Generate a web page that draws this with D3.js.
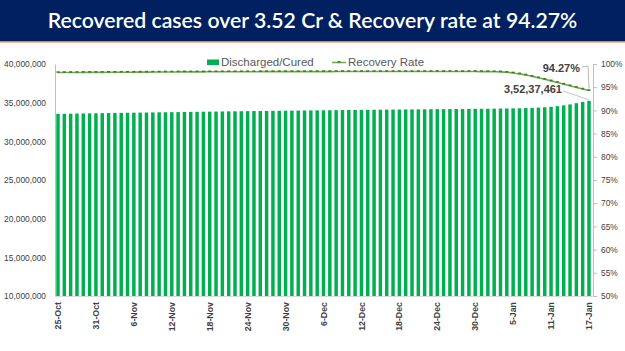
<!DOCTYPE html>
<html>
<head>
<meta charset="utf-8">
<script src="https://cdn.jsdelivr.net/npm/d3@7"></script>
<style>
  body { margin: 0; background: #fff; }
  svg { display: block; font-family: "Liberation Sans", Arial, sans-serif; }
</style>
</head>
<body>
<div id="chart"></div>
<script>
// Dates (one bar per day)
const dates = [
  "25-Oct","26-Oct","27-Oct","28-Oct","29-Oct","30-Oct","31-Oct",
  "1-Nov","2-Nov","3-Nov","4-Nov","5-Nov","6-Nov","7-Nov","8-Nov","9-Nov","10-Nov",
  "11-Nov","12-Nov","13-Nov","14-Nov","15-Nov","16-Nov","17-Nov","18-Nov","19-Nov","20-Nov",
  "21-Nov","22-Nov","23-Nov","24-Nov","25-Nov","26-Nov","27-Nov","28-Nov","29-Nov","30-Nov",
  "1-Dec","2-Dec","3-Dec","4-Dec","5-Dec","6-Dec","7-Dec","8-Dec","9-Dec","10-Dec",
  "11-Dec","12-Dec","13-Dec","14-Dec","15-Dec","16-Dec","17-Dec","18-Dec","19-Dec","20-Dec",
  "21-Dec","22-Dec","23-Dec","24-Dec","25-Dec","26-Dec","27-Dec","28-Dec","29-Dec","30-Dec","31-Dec",
  "1-Jan","2-Jan","3-Jan","4-Jan","5-Jan","6-Jan","7-Jan","8-Jan","9-Jan","10-Jan",
  "11-Jan","12-Jan","13-Jan","14-Jan","15-Jan","16-Jan","17-Jan"
];

// Discharged/Cured (cumulative)
const cured = [
  33548605,33561349,33576291,33590412,33604283,33617764,33631212,
  33643741,33656003,33668560,33681080,33692883,33704555,33715921,33727176,33739076,33751187,
  33763104,33774880,33786010,33797186,33808059,33819320,33830651,33841847,33852712,33863284,
  33873890,33884075,33894100,33903742,33913294,33922962,33932528,33941639,33950580,33960126,
  33969438,33978770,33988239,33997696,34006797,34015997,34024602,34032924,34041386,34049864,
  34058289,34066741,34074879,34083160,34091071,34098780,34106532,34114331,34121762,34129243,
  34136589,34143939,34151097,34157856,34164813,34171471,34178940,34185716,34192517,34200256,34208681,
  34218071,34228386,34241006,34251918,34264293,34278000,34297000,34325000,34360000,34405000,
  34465000,34545000,34650000,34775000,34930000,35099130,35237461
];

// Recovery rate (%)
const rate = [
  98.15,98.16,98.17,98.18,98.19,98.19,98.20,
  98.20,98.21,98.22,98.23,98.23,98.24,98.25,98.25,98.26,98.27,
  98.28,98.28,98.29,98.30,98.30,98.31,98.31,98.32,98.32,98.33,
  98.33,98.33,98.34,98.34,98.34,98.35,98.35,98.35,98.35,98.35,
  98.35,98.36,98.36,98.36,98.36,98.36,98.36,98.37,98.37,98.37,
  98.37,98.37,98.37,98.38,98.38,98.38,98.38,98.38,98.38,98.38,
  98.38,98.38,98.38,98.38,98.38,98.38,98.38,98.37,98.37,98.37,98.36,
  98.35,98.34,98.31,98.22,98.07,97.87,97.62,97.33,97.02,96.70,
  96.36,96.01,95.65,95.30,94.95,94.60,94.27
];

const xTicks = ["25-Oct","31-Oct","6-Nov","12-Nov","18-Nov","24-Nov","30-Nov","6-Dec","12-Dec","18-Dec","24-Dec","30-Dec","5-Jan","11-Jan","17-Jan"];
const leftTicks = [10000000,15000000,20000000,25000000,30000000,35000000,40000000];
const rightTicks = [50,55,60,65,70,75,80,85,90,95,100];

const titleText = "Recovered cases over 3.52 Cr & Recovery rate at 94.27%";

const W = 625, H = 351;
const plot = { left: 55, right: 592, top: 64, bottom: 296 };

const svg = d3.select("#chart").append("svg")
    .attr("width", W).attr("height", H);

// Title banner
svg.append("rect").attr("x", 0).attr("y", 0).attr("width", W).attr("height", 41).attr("fill", "#002060");
svg.append("rect").attr("x", 0).attr("y", 41).attr("width", W).attr("height", 1.5).attr("fill", "#ED7D31");
const title = svg.append("text")
    .attr("x", W / 2).attr("y", 28)
    .attr("text-anchor", "middle")
    .attr("fill", "#fff")
    .style("font-family", "Lato, 'Open Sans', sans-serif")
    .style("font-weight", "600")
    .style("font-size", "20px")
    .text(titleText);
// fit title width to the reference
const tw = title.node().getComputedTextLength();
title.style("font-size", (20 * 530 / tw) + "px");

// Scales
const x = d3.scaleBand().domain(dates).range([plot.left, plot.right]).paddingInner(0.45).paddingOuter(0.2);
const yL = d3.scaleLinear().domain([10000000, 40000000]).range([plot.bottom, plot.top]);
const yR = d3.scaleLinear().domain([50, 100]).range([plot.bottom, plot.top]);

// Bars
svg.append("g").selectAll("rect")
    .data(dates)
    .enter()
    .append("rect")
    .attr("x", d => x(d))
    .attr("width", x.bandwidth())
    .attr("y", (d, i) => yL(cured[i]))
    .attr("height", (d, i) => plot.bottom - yL(cured[i]))
    .attr("fill", "#00B050");

// Left axis
const leftAxis = svg.append("g")
    .attr("transform", "translate(" + plot.left + ",0)")
    .call(d3.axisLeft(yL).tickValues(leftTicks).tickSize(0).tickPadding(9).tickFormat(d3.format(",")));
leftAxis.select(".domain").attr("stroke", "#bfbfbf");
leftAxis.selectAll("text").attr("fill", "#404040").style("font-size", "8.4px");

// Right axis
const rightAxis = svg.append("g")
    .attr("transform", "translate(" + (plot.right + 1) + ",0)")
    .call(d3.axisRight(yR).tickValues(rightTicks).tickSize(4).tickPadding(4).tickFormat(d => d + "%"));
rightAxis.select(".domain").attr("stroke", "#bfbfbf");
rightAxis.selectAll(".tick line").attr("stroke", "#bfbfbf");
rightAxis.selectAll("text").attr("fill", "#404040").style("font-size", "8.4px");

// Bottom axis
const bottomAxis = svg.append("g")
    .attr("transform", "translate(0," + plot.bottom + ")")
    .call(d3.axisBottom(x).tickValues(xTicks).tickSize(0).tickPadding(0));
bottomAxis.select(".domain").attr("stroke", "#d9d9d9");
bottomAxis.selectAll("text")
    .attr("transform", "translate(0,6)rotate(-90)")
    .attr("dy", "0.35em")
    .attr("x", 0).attr("y", 0)
    .style("text-anchor", "end")
    .style("font-size", "8.8px")
    .style("font-weight", "bold")
    .attr("fill", "#404040");

// Recovery rate line
const cx = d => x(d) + x.bandwidth() / 2;
svg.append("path")
    .datum(dates)
    .attr("fill", "none")
    .attr("stroke", "#70AD47")
    .attr("stroke-width", 1.6)
    .attr("d", d3.line().x(d => cx(d)).y((d, i) => yR(rate[i])).curve(d3.curveMonotoneX));

svg.append("g").selectAll("line")
    .data(dates)
    .enter()
    .append("line")
    .attr("x1", d => cx(d) - 1.5)
    .attr("x2", d => cx(d) + 1.5)
    .attr("y1", (d, i) => yR(rate[i]) - 0.5)
    .attr("y2", (d, i) => yR(rate[i]) - 0.5)
    .attr("stroke", "#3f7a2a")
    .attr("stroke-width", 1.6);

// Legend
svg.append("rect").attr("x", 207).attr("y", 59.5).attr("width", 12).attr("height", 5.5).attr("fill", "#00B050");
svg.append("text").attr("x", 221).attr("y", 66).text("Discharged/Cured")
    .attr("fill", "#595959").style("font-size", "11.5px");
svg.append("line").attr("x1", 332).attr("x2", 346).attr("y1", 62.5).attr("y2", 62.5)
    .attr("stroke", "#70AD47").attr("stroke-width", 1.6);
svg.append("line").attr("x1", 337.5).attr("x2", 340.5).attr("y1", 62).attr("y2", 62)
    .attr("stroke", "#3f7a2a").attr("stroke-width", 1.6);
svg.append("text").attr("x", 348).attr("y", 66).text("Recovery Rate")
    .attr("fill", "#595959").style("font-size", "11.5px");

// Annotations
const last = dates.length - 1;
const lastX = cx(dates[last]);
svg.append("polyline")
    .attr("points", [[582, 67], [588, 66], [lastX, yR(rate[last]) - 2]].map(p => p.join(",")).join(" "))
    .attr("fill", "none").attr("stroke", "#a6a6a6").attr("stroke-width", 0.8);
svg.append("text").attr("x", 580).attr("y", 72).attr("text-anchor", "end")
    .text(rate[last].toFixed(2) + "%")
    .attr("fill", "#404040").style("font-size", "11px").style("font-weight", "bold");

svg.append("line")
    .attr("x1", 563).attr("y1", 91).attr("x2", lastX).attr("y2", yL(cured[last]) - 1)
    .attr("stroke", "#b4b4d0").attr("stroke-width", 0.8);
svg.append("text").attr("x", 562).attr("y", 93).attr("text-anchor", "end")
    .text("3,52,37,461")
    .attr("fill", "#404040").style("font-size", "11px").style("font-weight", "bold");
</script>
</body>
</html>
